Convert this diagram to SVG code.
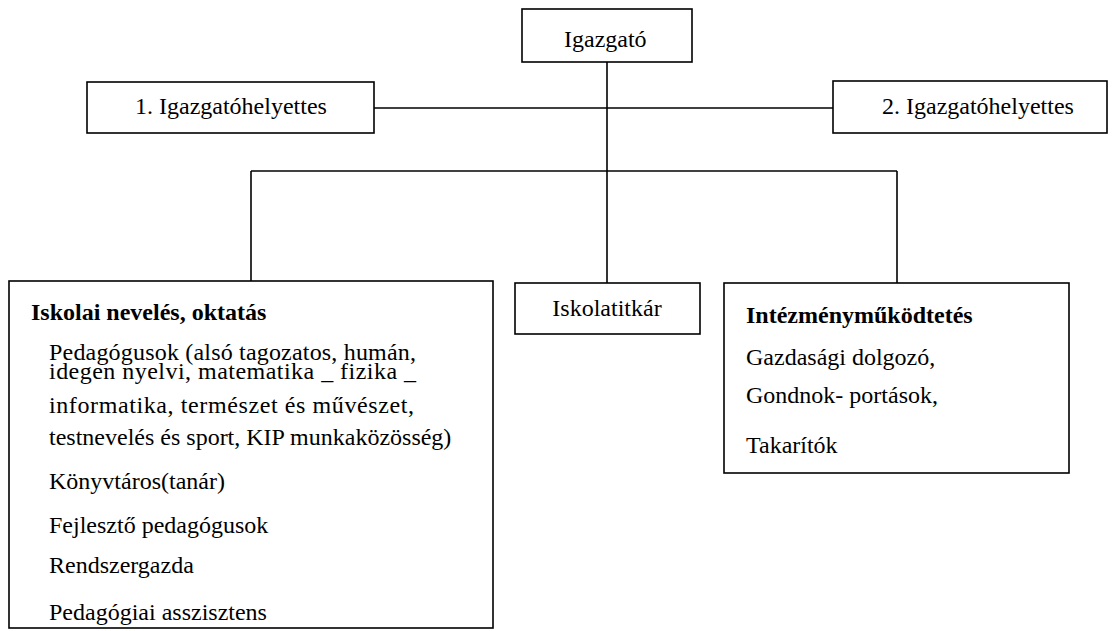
<svg xmlns="http://www.w3.org/2000/svg" width="1112" height="631" viewBox="0 0 1112 631">
<style>
  .box { fill: #ffffff; stroke: #000000; stroke-width: 1.6; }
  .conn { fill: none; stroke: #000000; stroke-width: 1.6; }
  .t { font-family: 'Liberation Serif', 'Tinos', 'Times New Roman', 'DejaVu Serif', serif; font-size: 24px; fill: #000000; }
  .b { font-weight: bold; }
  .c { text-anchor: middle; }
</style>
<rect x="0" y="0" width="1112" height="631" fill="#ffffff"/>
<g id="connectors">
  <line class="conn" x1="607" y1="62" x2="607" y2="171"/>
  <line class="conn" x1="374" y1="108" x2="833" y2="108"/>
  <line class="conn" x1="251" y1="171" x2="897" y2="171"/>
  <line class="conn" x1="251" y1="171" x2="251" y2="281"/>
  <line class="conn" x1="607" y1="171" x2="607" y2="283"/>
  <line class="conn" x1="897" y1="171" x2="897" y2="283"/>
</g>
<g id="igazgato">
  <rect class="box" x="522" y="9" width="170" height="53"/>
  <text class="t" x="564" y="47" font-family="Liberation Serif, serif">Igazgató</text>
</g>
<g id="helyettes1">
  <rect class="box" x="87" y="82" width="287" height="51"/>
  <text class="t" x="135" y="114">1. Igazgatóhelyettes</text>
</g>
<g id="helyettes2">
  <rect class="box" x="833" y="81" width="274" height="52"/>
  <text class="t" x="882" y="114">2. Igazgatóhelyettes</text>
</g>
<g id="iskolai">
  <rect class="box" x="9" y="281" width="484" height="347"/>
  <text class="t b" x="31" y="320">Iskolai nevelés, oktatás</text>
  <text class="t" x="49" y="360" textLength="367" lengthAdjust="spacing">Pedagógusok (alsó tagozatos, humán,</text>
  <text class="t" x="49" y="379" textLength="367" lengthAdjust="spacing">idegen nyelvi, matematika _ fizika _</text>
  <text class="t" x="49" y="413" textLength="365" lengthAdjust="spacing">informatika, természet és művészet,</text>
  <text class="t" x="49" y="445">testnevelés és sport, KIP munkaközösség)</text>
  <text class="t" x="49" y="489">Könyvtáros(tanár)</text>
  <text class="t" x="49" y="533">Fejlesztő pedagógusok</text>
  <text class="t" x="49" y="573">Rendszergazda</text>
  <text class="t" x="49" y="620">Pedagógiai asszisztens</text>
</g>
<g id="iskolatitkar">
  <rect class="box" x="515" y="283" width="185" height="51"/>
  <text class="t c" x="607" y="316">Iskolatitkár</text>
</g>
<g id="intezmeny">
  <rect class="box" x="724" y="283" width="345" height="190"/>
  <text class="t b" x="746" y="323">Intézményműködtetés</text>
  <text class="t" x="746" y="365">Gazdasági dolgozó,</text>
  <text class="t" x="746" y="403">Gondnok- portások,</text>
  <text class="t" x="746" y="453">Takarítók</text>
</g>
</svg>
